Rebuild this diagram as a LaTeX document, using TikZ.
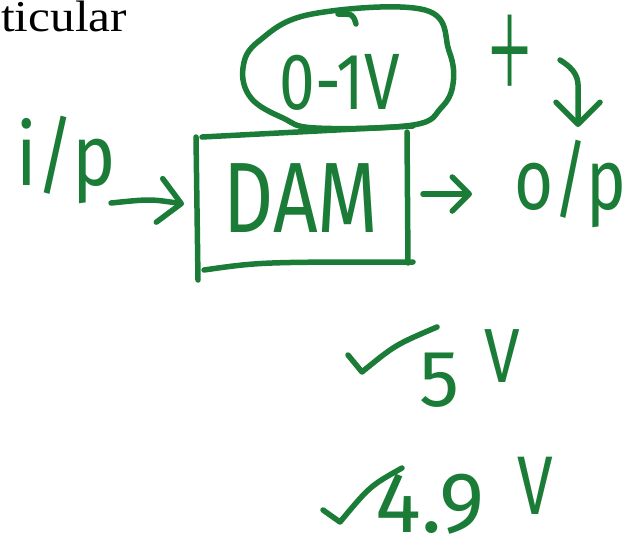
\documentclass[tikz,border=0pt]{standalone}
\usepackage{fontspec}
\setmainfont{Liberation Serif}
\newfontfamily\hand{Fira Sans}
\usetikzlibrary{arrows.meta}
\definecolor{pen}{RGB}{27,124,56}
\tikzset{
  stroke/.style={draw=pen, line width=5.5pt, line cap=round, line join=round},
  handtext/.style={text=pen, inner sep=0pt, font=\hand},
  barb/.style={-{Straight Barb[length=#1, width=2*#1, round]}},
}
\begin{document}
\begin{tikzpicture}[x=1pt, y=-1pt]
\useasboundingbox (0,0) rectangle (627,539);
% top-left cut text
\node[anchor=base west, inner sep=0pt, font=\fontsize{44}{44}\selectfont, xscale=1.12, transform shape] (tic) at (1,31) {ticular};
% blob round 0-1V
\draw[stroke] plot[smooth cycle, tension=0.65] coordinates {(312,14) (425,10) (449,51) (453,84) (441,108) (413,125) (316,128) (283,118) (251,98) (243,68) (259,41)};
\draw[stroke] (338,14) .. controls (353,14) .. (356,24);
\node[handtext, font=\hand\fontsize{80}{80}\selectfont, xscale=0.8, transform shape] (range) at (340,82) {0-1V};
% DAM box
\coordinate (tl) at (202,137);
\coordinate (tr) at (413,126);
\coordinate (bl) at (204,270);
\coordinate (br) at (413,262);
\draw[stroke] (tl) -- (tr);
\draw[stroke] (196,137) -- (198,280);
\draw[stroke] (bl) .. controls (260,262) .. (br);
\draw[stroke] (407,132) -- (408,263);
\node[handtext, font=\hand\fontsize{100}{100}\selectfont, xscale=0.78, transform shape] (dam) at (301,198) {DAM};
% input
\node[handtext, font=\hand\fontsize{86}{86}\selectfont, xscale=0.85, transform shape] (ip) at (66,160) {i/p};
\coordinate (a1s) at (111,203);
\coordinate (a1e) at (184,204);
\draw[stroke, barb=22pt] (a1s) .. controls (150,199) .. (a1e);
% output
\coordinate (a2s) at (423,194);
\coordinate (a2e) at (472,194);
\draw[stroke, barb=17pt] (a2s) -- (a2e);
\node[handtext, font=\hand\fontsize{86}{86}\selectfont, xscale=0.78, transform shape] (op) at (570,184) {o/p};
% plus and curved arrow
\node[text=pen, inner sep=0pt, font=\fontsize{90}{90}\selectfont, xscale=0.85, yscale=1.7, transform shape] (plus) at (510,58) {+};
\coordinate (c1) at (560,60);
\coordinate (c2) at (578,127);
\draw[stroke, barb=22pt] (c1) .. controls (576,70) and (579,78) .. (578,92) -- (c2);
% checks
\draw[stroke] (348,355) -- (362,372) .. controls (395,345) .. (437,327);
\node[handtext, font=\hand\fontsize{80}{80}\selectfont] (five) at (440,380) {5};
\node[handtext, font=\hand\fontsize{64}{64}\selectfont, yscale=1.2, transform shape] (v1) at (502,356) {V};
\draw[stroke] (323,510) -- (340,522) .. controls (370,486) .. (402,468);
\node[handtext, font=\hand\fontsize{86}{86}\selectfont] (num) at (430,504) {4.9};
\node[handtext, font=\hand\fontsize{64}{64}\selectfont, yscale=1.3, transform shape] (v2) at (535,486) {V};
\end{tikzpicture}
\end{document}
